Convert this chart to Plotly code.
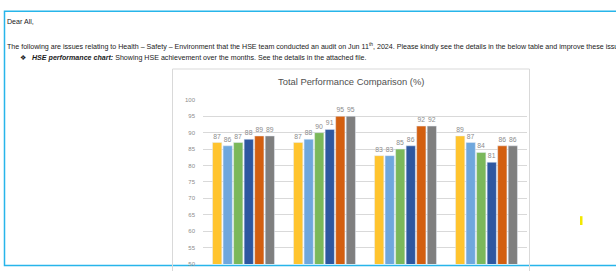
import plotly.graph_objects as go

W, H = 616, 271

categories = ["Group 1", "Group 2", "Group 3", "Group 4"]
series_names = ["Series 1", "Series 2", "Series 3", "Series 4", "Series 5", "Series 6"]
series_values = [
    [87, 87, 83, 89],
    [86, 88, 83, 87],
    [87, 90, 85, 84],
    [88, 91, 86, 81],
    [89, 95, 92, 86],
    [89, 95, 92, 86],
]
series_colors = ["#FFC42E", "#6FA7DD", "#7BB85A", "#2E57A0", "#D35F10", "#7F7F7F"]
ytick_vals = [50, 55, 60, 65, 70, 75, 80, 85, 90, 95, 100]

def px(x):
    return x / W

def py(y):
    return 1 - y / H

FONT = "Liberation Sans Narrow, Liberation Sans, sans-serif"

fig = go.Figure()
for name, vals, col in zip(series_names, series_values, series_colors):
    fig.add_trace(go.Bar(
        x=categories, y=vals, name=name, marker_color=col,
        text=[str(v) for v in vals], textposition="outside",
        textfont=dict(size=6.8, color="#8C8C8C", family=FONT),
        constraintext="none", cliponaxis=False,
    ))

annotations = [
    dict(text="Dear All,", x=px(5), y=py(19), xanchor="left", yanchor="middle"),
    dict(text="The following are issues relating to Health \u2013 Safety \u2013 Environment that the HSE team conducted an audit on Jun 11<sup>th</sup>, 2024. Please kindly see the details in the below table and improve these issues",
         x=px(5), y=py(44), xanchor="left", yanchor="middle"),
    dict(text="\u2756", x=px(18), y=py(56), xanchor="left", yanchor="middle"),
    dict(text="<i><b>HSE performance chart:</b></i> Showing HSE achievement over the months. See the details in the attached file.",
         x=px(30), y=py(56), xanchor="left", yanchor="middle"),
]
for a in annotations:
    a.update(xref="paper", yref="paper", showarrow=False,
             font=dict(size=7.1, color="#1A1A1A", family=FONT))
annotations.append(dict(text="Total Performance Comparison (%)", x=px(351), y=py(80),
                        xref="paper", yref="paper", showarrow=False,
                        xanchor="center", yanchor="middle",
                        font=dict(size=9.4, color="#505050", family=FONT)))

shapes = [
    dict(type="rect", xref="paper", yref="paper", x0=px(4.5), x1=px(625), y0=py(8.5), y1=py(268.5),
         line=dict(color="#27B5EA", width=1.5), layer="below"),
    dict(type="rect", xref="paper", yref="paper", x0=px(172.5), x1=px(529.5), y0=py(67.5), y1=py(280),
         line=dict(color="#D9D9D9", width=1), layer="below"),
    dict(type="rect", xref="paper", yref="paper", x0=px(580), x1=px(582.5), y0=py(218), y1=py(227),
         line=dict(width=0), fillcolor="#F2E800"),
]

fig.update_layout(
    width=W, height=H, margin=dict(l=0, r=0, t=0, b=0),
    paper_bgcolor="white", plot_bgcolor="white",
    showlegend=False, barmode="group", bargap=0.22, bargroupgap=0.12,
    uniformtext=dict(minsize=6, mode="show"),
    annotations=annotations, shapes=shapes,
    xaxis=dict(domain=[px(203), px(527)], showticklabels=False, showgrid=False,
               zeroline=False, showline=False),
    yaxis=dict(domain=[py(267), py(99)], range=[50, 100], tickvals=ytick_vals,
               showgrid=True, gridcolor="#D9D9D9", gridwidth=1, zeroline=False,
               showline=False, ticks="", ticklabelstandoff=7,
               tickfont=dict(size=6, color="#8C8C8C", family=FONT)),
)

fig.write_html("out.html", config={"displayModeBar": False},
               post_script="document.body.style.margin='0';")
